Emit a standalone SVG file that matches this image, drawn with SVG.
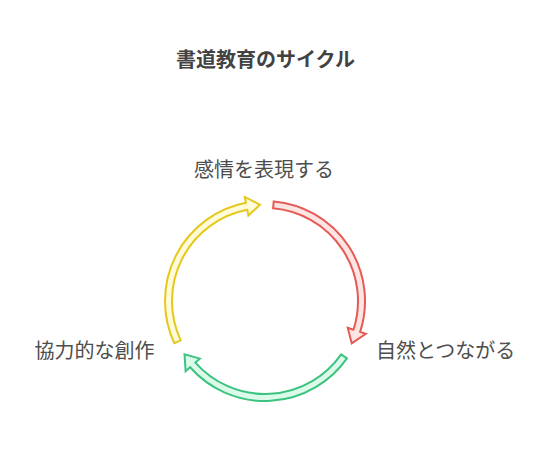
<svg xmlns="http://www.w3.org/2000/svg" width="542" height="450" viewBox="0 0 542 450">
<style>
.title{font-family:"Noto Sans CJK JP","Noto Sans",sans-serif;font-size:20px;font-weight:bold;fill:#424242}
.lbl{font-family:"Noto Sans CJK JP","Noto Sans",sans-serif;font-size:20px;fill:#4d4d4d}
.arr{stroke-width:2;stroke-linejoin:miter}
.red{fill:#ffe4e4;stroke:#e65a55}
.green{fill:#dcfaea;stroke:#3cc380}
.yellow{fill:#fffbd8;stroke:#e4c81c}
</style>
<rect width="542" height="450" fill="#ffffff"/>
<text class="title" x="265.5" y="67" text-anchor="middle">書道教育のサイクル</text>
<g id="connectors">
<path class="arr red" d="M 273.72 201.38 A 100 100 0 0 1 360.11 331.90 L 365.81 333.76 L 351.73 343.30 L 347.74 327.88 L 353.45 329.74 A 93 93 0 0 0 273.11 208.35 Z"/>
<path class="arr green" d="M 346.92 358.36 A 100 100 0 0 1 190.10 367.26 L 185.61 371.24 L 184.53 354.26 L 199.84 358.65 L 195.35 362.62 A 93 93 0 0 0 341.18 354.34 Z"/>
<path class="arr yellow" d="M 174.37 343.26 A 100 100 0 0 1 245.92 202.84 L 244.77 196.95 L 259.95 204.63 L 248.40 215.60 L 247.25 209.71 A 93 93 0 0 0 180.71 340.30 Z"/>
</g>
<g id="node-express">
<text class="lbl" x="264" y="177" text-anchor="middle">感情を表現する</text>
</g>
<g id="node-nature">
<text class="lbl" x="376" y="358">自然とつながる</text>
</g>
<g id="node-collab">
<text class="lbl" x="154.5" y="358" text-anchor="end">協力的な創作</text>
</g>
</svg>
